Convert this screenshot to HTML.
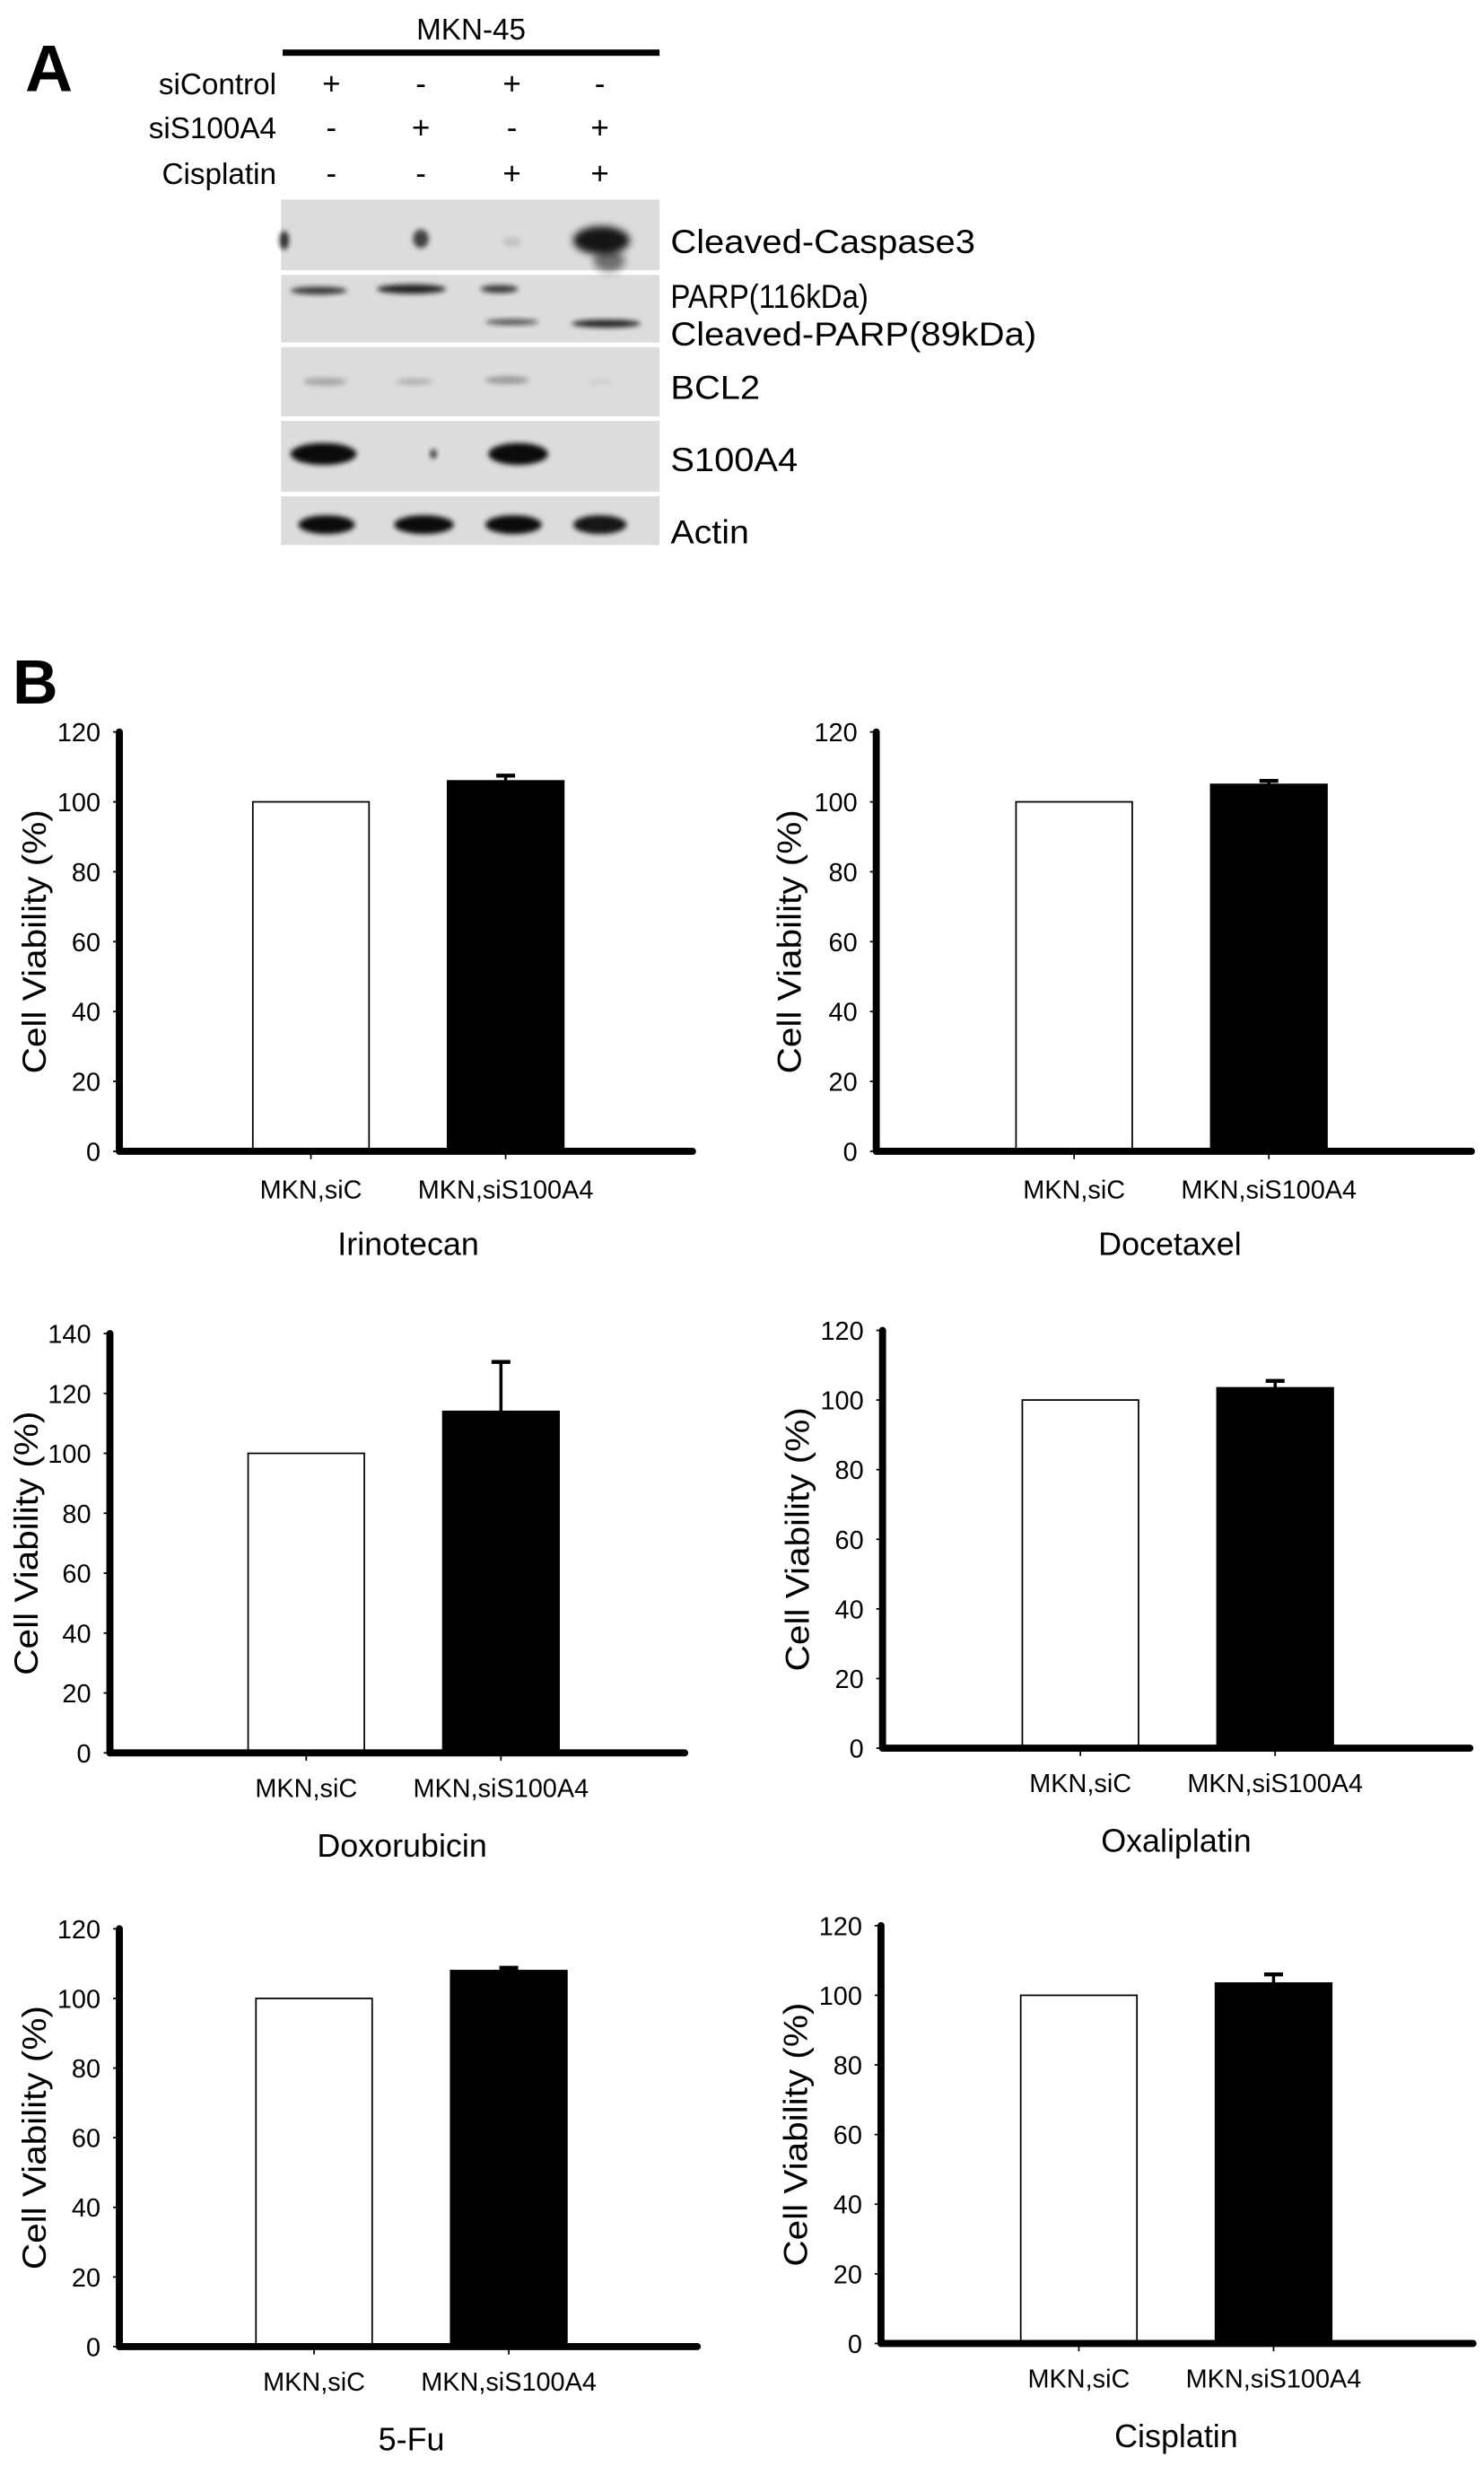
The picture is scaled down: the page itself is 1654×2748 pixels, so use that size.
<!DOCTYPE html>
<html><head><meta charset="utf-8"><title>S100A4 knockdown figure</title>
<style>
html,body{margin:0;padding:0;background:#fff;}
svg{display:block;font-family:"Liberation Sans",Arial,sans-serif;}
</style></head>
<body>
<svg id="fig" width="1654" height="2748" viewBox="0 0 945 1570" xmlns="http://www.w3.org/2000/svg">
<defs>
<filter id="blur1" x="-50%" y="-50%" width="200%" height="200%"><feGaussianBlur stdDeviation="1.6"/></filter>
<filter id="blur2" x="-50%" y="-50%" width="200%" height="200%"><feGaussianBlur stdDeviation="2.5"/></filter>
</defs>
<g id="panelA">
<text x="16" y="58" font-size="42" font-weight="bold">A</text>
<text x="300" y="25" font-size="19" text-anchor="middle">MKN-45</text>
<rect x="180" y="31.5" width="240" height="4" fill="#000"/>
<text x="176" y="60" font-size="19" text-anchor="end">siControl</text>
<text x="176" y="88" font-size="19" text-anchor="end">siS100A4</text>
<text x="176" y="117" font-size="19" text-anchor="end">Cisplatin</text>
<g id="signs"></g>
<g id="blots"></g>
</g>
<text x="8" y="448" font-size="40" font-weight="bold">B</text>
<g id="charts"></g>
</svg>
<script>
// ----- Panel A data -----
const laneX = [211, 268, 326, 382];
const siControl = ['+','-','+','-'];
const siS100A4 = ['-','+','-','+'];
const cisplatin = ['-','-','+','+'];
const blotNames = ['Cleaved-Caspase3','PARP(116kDa)','BCL2','S100A4','Actin'];
// ----- Panel B data -----
const drugs = ['Irinotecan','Docetaxel','Doxorubicin','Oxaliplatin','5-Fu','Cisplatin'];
const categories = ['MKN,siC','MKN,siS100A4'];
const siCValues = [100,100,100,100,100,100];
const siS100A4Values = [106,105,114,103.5,108,103.5];
const siS100A4Errors = [1.5,1,16.5,2,0.8,2.5];
const yMaxes = [120,120,140,120,120,120];
const yTicks120 = [0,20,40,60,80,100,120];
const yTicks140 = [0,20,40,60,80,100,120,140];

const NS='http://www.w3.org/2000/svg';
function mk(tag, attrs, parent){const e=document.createElementNS(NS,tag);for(const k in attrs)e.setAttribute(k,attrs[k]);parent.appendChild(e);return e;}

// signs
const signs=document.getElementById('signs');
[[siControl,53],[siS100A4,81],[cisplatin,110]].forEach(([arr,y])=>{
  arr.forEach((s,i)=>{
    const t=mk('text',{x:laneX[i],y:y+7,'font-size':20,'text-anchor':'middle'},signs);
    
    
    t.textContent=s;
  });
});
// blots
const blots=document.getElementById('blots');
const strips=[[127,172],[175,218],[221,265],[268,313],[316,347]];
strips.forEach((s,i)=>{
  const r=mk('rect',{x:179,y:s[0],width:241,height:s[1]-s[0],fill:'#dcdcdc'},blots);
  
  
});
function band(cx,cy,rx,ry,op,f){const e=mk('ellipse',{cx,cy,rx,ry,fill:'#000','fill-opacity':op,filter:'url(#'+(f||'blur1')+')'},blots);}
band(181,153,3,6,0.8);band(268,152,5,6,0.7);band(326,154,6,3,0.12);band(383,153,18,9,0.9,'blur2');band(388,166,10,7,0.5,'blur2');
band(203,185,18,2.5,0.75);band(262,184,22,3,0.85);band(318,184,12,2.5,0.75);band(326,205,17,2,0.6);band(386,206,22,2.5,0.85);
band(207,243,14,2.5,0.25);band(264,243,12,2,0.2);band(323,242,14,2.5,0.3);band(382,243,8,2,0.06);
band(206,289,21,7,0.95);band(276,289,2,3,0.8);band(330,289,19,7,0.95);
band(208,334,18,6,0.95);band(270,334,19,6,0.95);band(327,334,18,6,0.95);band(382,334,17,6,0.9);
const lbl=[['Cleaved-Caspase3',161,194],['PARP(116kDa)',196,126],['Cleaved-PARP(89kDa)',220,233],['BCL2',254,57],['S100A4',300,81],['Actin',346,50]];
lbl.forEach(([t,y,w])=>{const e=mk('text',{x:427,y,'font-size':21,textLength:w,lengthAdjust:'spacingAndGlyphs'},blots);e.textContent=t;});

const layout=[
 {ax:76,top:466,zero:733,right:441,w1:161,w2:285,ly:763,tx:260,ty:799,yt:22},
 {ax:558,top:466,zero:733,right:937,w1:647,w2:771,ly:763,tx:745,ty:799,yt:503},
 {ax:70,top:849,zero:1116,right:436,w1:158,w2:282,ly:1144,tx:256,ty:1182,yt:17},
 {ax:562,top:847,zero:1113,right:936,w1:651,w2:775,ly:1141,tx:749,ty:1179,yt:508},
 {ax:76,top:1228,zero:1494,right:444,w1:163,w2:287,ly:1522,tx:262,ty:1560,yt:22},
 {ax:561,top:1226,zero:1492,right:938,w1:650,w2:774,ly:1520,tx:749,ty:1558,yt:507}
];
const barW=74;
const charts=document.getElementById('charts');
drugs.forEach((d,i)=>{
  const L=layout[i];
  const g=mk('g',{},charts);
  
  
  const ymax=yMaxes[i];
  const ticks= ymax===140?yTicks140:yTicks120;
  const y=v=>L.zero-(v/ymax)*(L.zero-L.top);
  ticks.forEach(t=>{
    const tk=mk('line',{x1:L.ax-4,x2:L.ax,y1:y(t),y2:y(t),stroke:'#000','stroke-width':1},g);
    
    const tl=mk('text',{x:L.ax-12,y:y(t)+6,'font-size':16.5,'text-anchor':'end'},g);
    
    tl.textContent=t;
  });
  const vals=[siCValues[i],siS100A4Values[i]];
  const xs=[L.w1,L.w2];
  vals.forEach((v,j)=>{
    const b=mk('rect',{x:xs[j],y:y(v),width:barW,height:L.zero-y(v),fill:j?'#000':'#fff',stroke:'#000','stroke-width':1},g);
    
    const cl=mk('text',{x:xs[j]+barW/2,y:L.ly,'font-size':16.5,'text-anchor':'middle'},g);
    
    cl.textContent=categories[j];
    const xt=mk('line',{x1:xs[j]+barW/2,x2:xs[j]+barW/2,y1:L.zero,y2:L.zero+5,stroke:'#000','stroke-width':1},g);
    
  });
  const cx=L.w2+barW/2, ve=siS100A4Values[i]+siS100A4Errors[i];
  const eb=mk('line',{x1:cx,x2:cx,y1:y(siS100A4Values[i]),y2:y(ve),stroke:'#000','stroke-width':2},g);
  
  const ec=mk('line',{x1:cx-6,x2:cx+6,y1:y(ve),y2:y(ve),stroke:'#000','stroke-width':2.5},g);
  
  const ya=mk('line',{x1:L.ax,x2:L.ax,y1:L.top,y2:L.zero,stroke:'#000','stroke-width':4.5,'stroke-linecap':'round'},g);
  
  const xa=mk('line',{x1:L.ax,x2:L.right,y1:L.zero,y2:L.zero,stroke:'#000','stroke-width':4.5,'stroke-linecap':'round'},g);
  
  const yt=mk('text',{x:0,y:0,'font-size':21,'text-anchor':'middle',textLength:168,lengthAdjust:'spacingAndGlyphs',transform:`translate(${L.yt+7},${(L.top+L.zero)/2}) rotate(-90)`},g);
  
  yt.textContent='Cell Viability (%)';
  const tt=mk('text',{x:L.tx,y:L.ty,'font-size':20.5,'text-anchor':'middle'},g);
  
  tt.textContent=d;
});
</script>
</body></html>
